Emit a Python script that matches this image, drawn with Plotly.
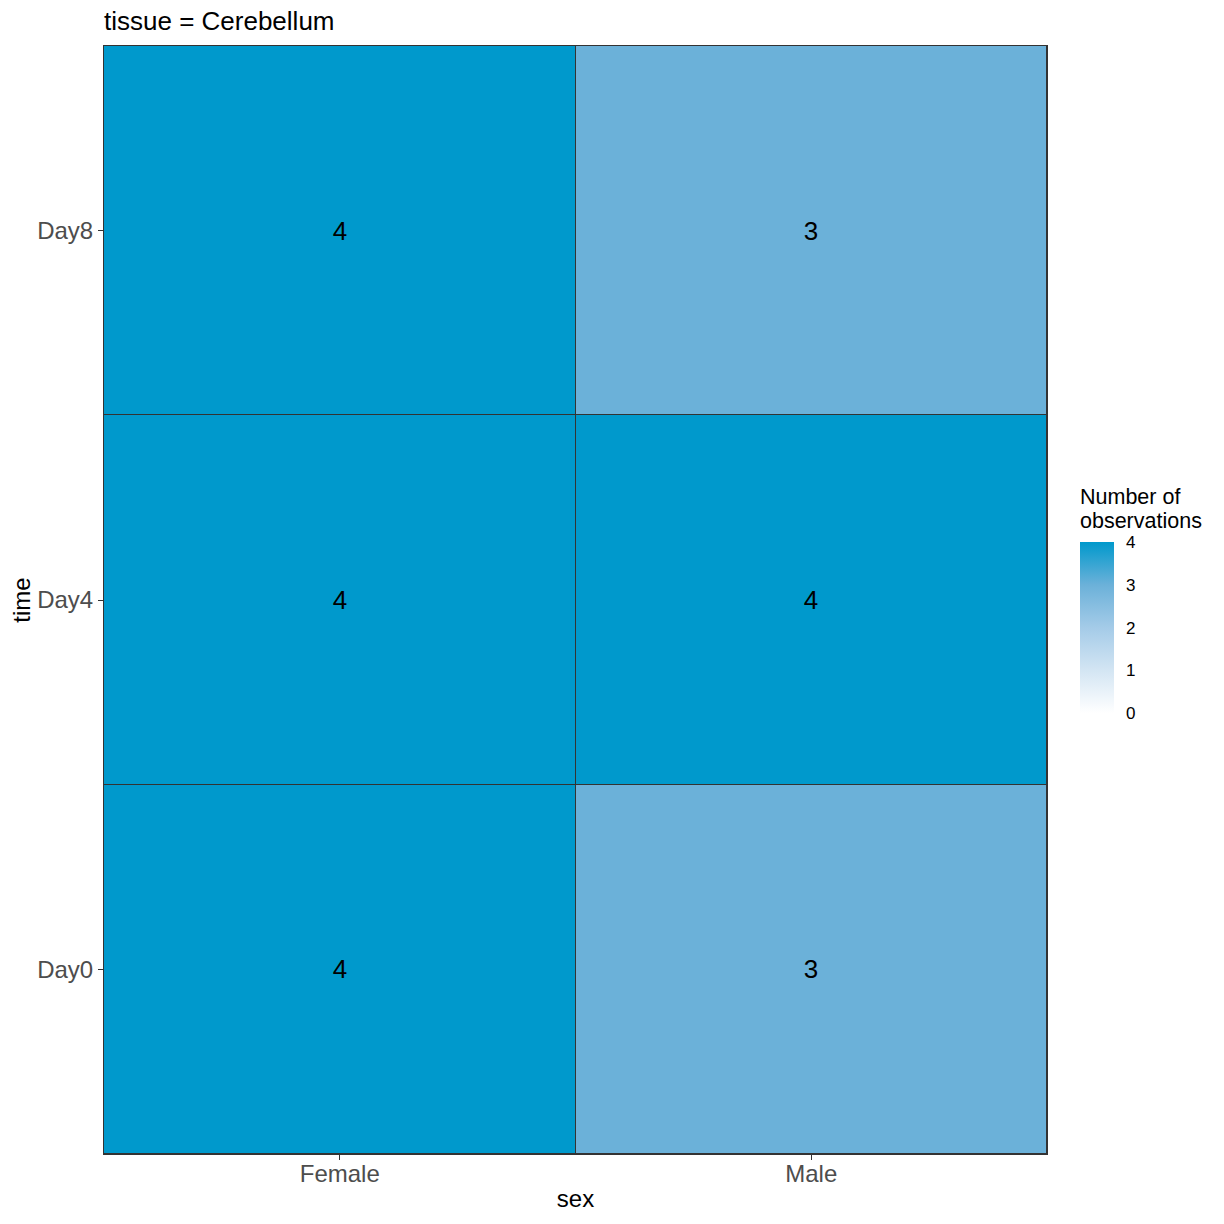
import plotly.graph_objects as go

# Daten
geschlecht = ["Female", "Male"]
zeitpunkte = ["Day0", "Day4", "Day8"]
# Anzahl Beobachtungen je Zeitpunkt (Zeilen) und Geschlecht (Spalten)
anzahl = [
    [4, 3],  # Day0
    [4, 4],  # Day4
    [4, 3],  # Day8
]
farbskala = [
    [0.0, "#FFFFFF"],
    [0.25, "#D3E5F3"],
    [0.5, "#A4CBE8"],
    [0.75, "#6BB1D9"],
    [1.0, "#0099CC"],
]

SCHRIFT = "Liberation Sans, Arial, sans-serif"
# Seite hat ca. 7px Rand -> Ränder entsprechend verschieben
VERSATZ = 7
PH = 1108  # Höhe der Zeichenfläche in px

fig = go.Figure(go.Heatmap(
    x=geschlecht,
    y=zeitpunkte,
    z=anzahl,
    zmin=0, zmax=4,
    colorscale=farbskala,
    xgap=1, ygap=1,
    texttemplate="%{z}",
    textfont=dict(size=26, color="black", family=SCHRIFT),
    hoverinfo="x+y+z",
    colorbar=dict(
        thickness=34, lenmode="pixels", len=171,
        x=1.035, xanchor="left", xpad=0,
        y=0.475, yanchor="middle", ypad=0,
        outlinewidth=0,
        tickvals=[0, 1, 2, 3, 4],
        ticks="outside", ticklen=9, tickcolor="white",
        tickfont=dict(size=17, color="black", family=SCHRIFT),
    ),
))

fig.update_layout(
    width=1224, height=1224,
    margin=dict(l=103 - VERSATZ, r=178 + VERSATZ, t=45 - VERSATZ, b=71 + VERSATZ),
    paper_bgcolor="white",
    plot_bgcolor="#333333",
    font=dict(family=SCHRIFT),
    title=dict(text="tissue = Cerebellum", x=(103 - VERSATZ) / 1224, xanchor="left",
               y=1 - (20 - VERSATZ) / 1224, yanchor="middle",
               font=dict(size=26, color="black", family=SCHRIFT)),
    xaxis=dict(
        title=dict(text="sex", font=dict(size=24, color="black"), standoff=4),
        tickfont=dict(size=24, color="#4D4D4D"),
        ticks="outside", ticklen=5, tickcolor="#333333", ticklabelstandoff=-7,
        showline=True, linecolor="#333333", linewidth=1, mirror=True,
        showgrid=False, zeroline=False, automargin=False,
    ),
    yaxis=dict(
        title=dict(text="time", font=dict(size=24, color="black"), standoff=9),
        tickfont=dict(size=24, color="#4D4D4D"),
        ticks="outside", ticklen=5, tickcolor="#333333",
        showline=True, linecolor="#333333", linewidth=1, mirror=True,
        showgrid=False, zeroline=False, automargin=False,
    ),
    annotations=[
        dict(text="Number of", xref="paper", yref="paper",
             x=1.035, y=(1153 - 496) / PH, xanchor="left", yanchor="middle",
             xshift=-2, showarrow=False,
             font=dict(size=21.5, color="black", family=SCHRIFT)),
        dict(text="observations", xref="paper", yref="paper",
             x=1.035, y=(1153 - 520) / PH, xanchor="left", yanchor="middle",
             xshift=-2, showarrow=False,
             font=dict(size=21.5, color="black", family=SCHRIFT)),
    ],
)

fig.write_html("out.html")
